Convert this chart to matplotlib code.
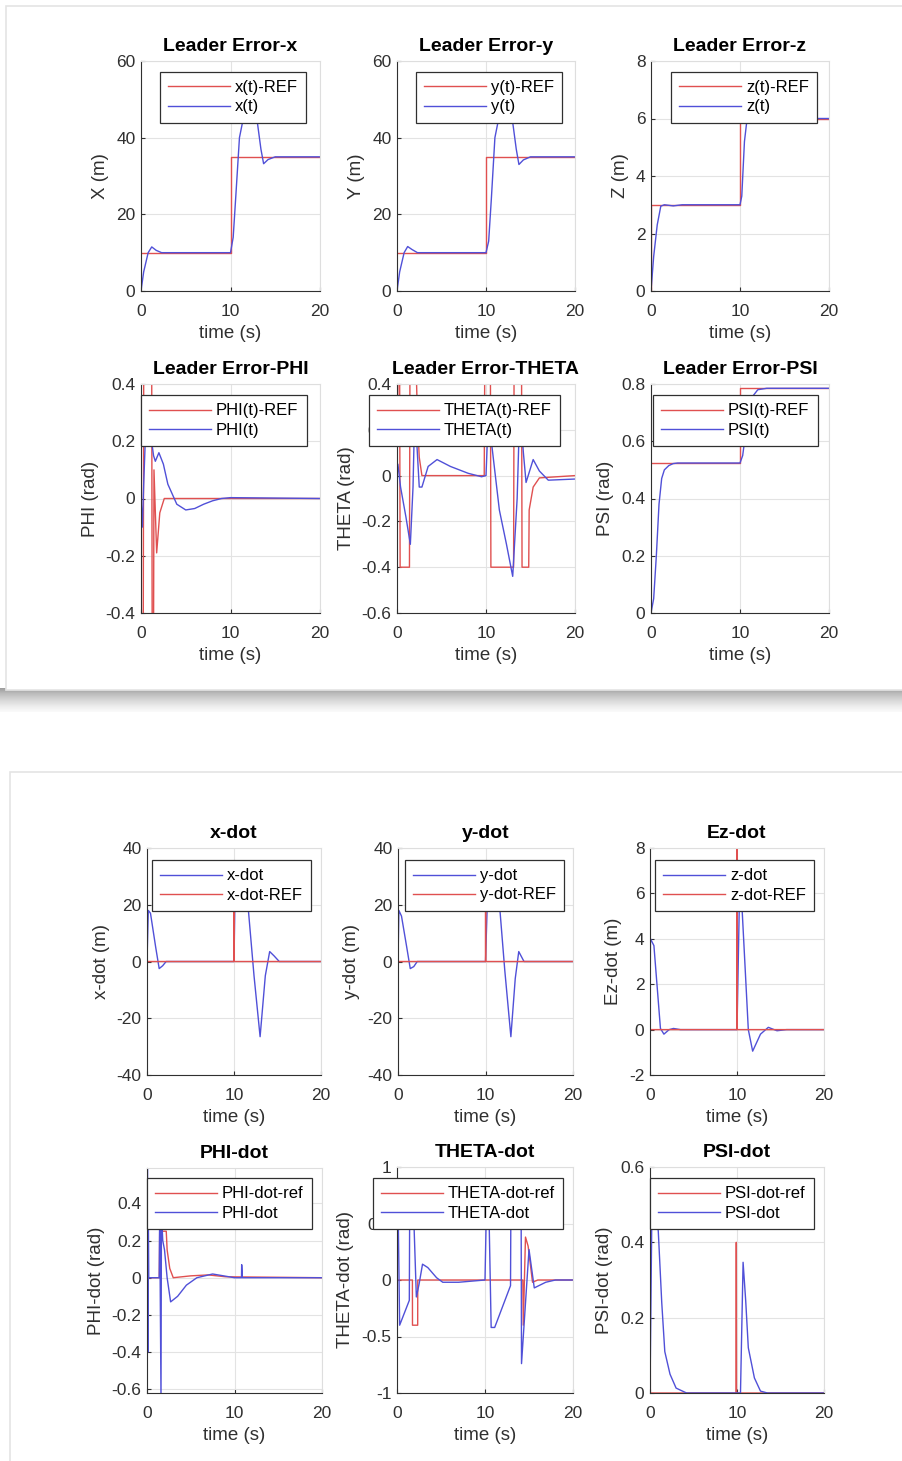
import numpy as np
import matplotlib.pyplot as plt
from matplotlib.ticker import FuncFormatter

W, H = 902, 1461
plt.rcParams['font.family'] = ['Liberation Sans', 'DejaVu Sans']
plt.rcParams['axes.unicode_minus'] = False

RED = '#e05050'
BLUE = '#5050d8'

# ---- top figure: positions / attitude ----
x_ref_t = [0, 10, 10, 20]
x_ref = [10, 10, 35, 35]
x_t = [0, 0.3, 0.8, 1.2, 1.7, 2.3, 10, 10.3, 10.6, 11.0, 11.6, 12.4, 13.0, 13.4, 13.7, 14.2, 15, 20]
x_v = [0, 5, 10, 11.5, 10.6, 10, 10, 14, 25, 40, 47, 47, 44, 37, 33.2, 34.3, 35, 35]

y_ref_t = [0, 10, 10, 20]
y_ref = [10, 10, 35, 35]
y_t = [0, 0.3, 0.8, 1.2, 1.7, 2.3, 10, 10.3, 10.6, 11.0, 11.6, 12.4, 13.0, 13.4, 13.7, 14.2, 15, 20]
y_v = [0, 5, 10, 11.6, 10.8, 10, 10, 13, 24, 40, 47, 47, 44, 37, 33.0, 34.2, 35, 35]

z_ref_t = [0, 0, 10, 10, 20]
z_ref = [0, 3, 3, 6, 6]
z_t = [0, 0.3, 0.7, 1.1, 1.5, 2.5, 3.5, 10, 10.2, 10.5, 10.8, 11.5, 20]
z_v = [0, 1.2, 2.3, 2.95, 3.0, 2.96, 3.0, 3.0, 3.3, 5.2, 6.0, 6.0, 6.0]

phi_ref_t = [0, 0.05, 0.25, 0.3, 1.2, 1.25, 1.4, 1.45, 1.75, 2.1, 2.6, 20]
phi_ref = [0, -0.5, -0.5, 0.4, 0.4, -0.5, -0.5, 0.1, -0.19, -0.05, 0, 0]
phi_t = [0, 0.15, 0.3, 0.5, 0.8, 1.1, 1.4, 1.6, 2.0, 2.5, 3, 4, 5, 6, 7, 8, 9, 10, 20]
phi_v = [0, -0.1, 0.05, 0.22, 0.27, 0.22, 0.15, 0.13, 0.16, 0.12, 0.05, -0.02, -0.04, -0.035, -0.02, -0.008, 0, 0.003, 0]

theta_ref_t = [0, 0.1, 0.15, 0.3, 0.35, 1.4, 1.45, 2.2, 2.3, 2.5, 2.8, 9.8, 9.85, 10.5, 10.55, 13.1, 13.15,
               14.0, 14.05, 14.8, 14.85, 15.3, 16, 20]
theta_ref = [0, 0.4, 0.4, 0.4, -0.4, -0.4, 0.4, 0.4, 0.25, 0.08, 0, 0, 0.4, 0.4, -0.4, -0.4, 0.4,
             0.4, -0.4, -0.4, -0.15, -0.05, -0.01, 0]
theta_t = [0, 0.1, 0.4, 1.0, 1.5, 1.8, 2.0, 2.5, 2.8, 3.5, 4.5, 6, 8, 9.5, 10, 10.3, 10.6, 11.5, 12.3, 13.0,
           13.5, 13.8, 14.2, 14.5, 15.3, 16, 17, 20]
theta_v = [0, 0.05, -0.05, -0.18, -0.3, -0.05, 0.3, -0.05, -0.05, 0.04, 0.07, 0.04, 0.01, -0.005, 0, 0.3, 0.15,
           -0.15, -0.3, -0.44, -0.1, 0.3, 0.1, -0.03, 0.07, 0.02, -0.02, -0.015]

psi_ref_t = [0, 10, 10, 20]
psi_ref = [0.5236, 0.5236, 0.7854, 0.7854]
psi_t = [0, 0.3, 0.6, 0.9, 1.2, 1.5, 2, 2.5, 3, 10, 10.3, 10.6, 11, 11.5, 12, 13, 20]
psi_v = [0, 0.05, 0.2, 0.38, 0.47, 0.5, 0.515, 0.522, 0.524, 0.524, 0.55, 0.62, 0.7, 0.76, 0.78, 0.785, 0.785]

# ---- bottom figure: rates ----
xd_t = [0, 0.15, 0.4, 1.0, 1.4, 1.8, 2.2, 2.6, 10, 10.1, 10.4, 11.2, 11.6, 12.3, 13.0, 13.6, 14.1, 14.6, 15.2, 20]
xd_v = [0, 18, 17, 5, -2.5, -1.5, 0, 0, 0, 20, 30, 30, 20, -5, -26.5, -5, 3.5, 2, 0, 0]
xd_ref_t = [0, 10, 10.01, 10.02, 20]
xd_ref = [0, 0, 25, 0, 0]

yd_t = [0, 0.1, 0.4, 1.0, 1.4, 1.8, 2.2, 2.6, 10, 10.2, 10.5, 11.2, 11.6, 12.2, 12.9, 13.4, 13.8, 14.4, 20]
yd_v = [0, 18, 16, 5, -2.5, -1.8, 0, 0, 0, 20, 30, 30, 20, -3, -26.5, -6, 3.5, 0, 0]
yd_ref_t = [0, 10, 10.01, 10.02, 20]
yd_ref = [0, 0, 25, 0, 0]

zd_t = [0, 0.05, 0.45, 1.2, 1.6, 2.2, 2.7, 3.5, 10, 10.3, 10.6, 11.3, 11.8, 12.7, 13.6, 14.6, 15.7, 20]
zd_v = [0, 4.0, 3.7, 0.05, -0.2, 0.0, 0.05, 0, 0, 6.2, 5.2, 0, -0.95, -0.2, 0.1, -0.05, 0, 0]
zd_ref_t = [0, 10, 10.01, 10.02, 20]
zd_ref = [0, 0, 9, 0, 0]

phid_ref_t = [0, 1.4, 1.45, 2.2, 2.3, 2.6, 3.0, 5, 7, 9, 20]
phid_ref = [0, 0, 0.25, 0.25, 0.15, 0.05, 0.0, 0.01, 0.015, 0.005, 0]
phid_t = [0, 0.05, 0.1, 0.15, 0.2, 1.4, 1.45, 1.6, 1.65, 1.8, 2.0, 2.3, 2.7, 3.5, 4.5, 5.7, 7.5, 10,
          10.8, 10.82, 10.9, 20]
phid_v = [0, 0.6, -0.4, 0.35, 0, 0, 0.35, -0.65, 0.35, 0.2, 0.15, 0.0, -0.13, -0.1, -0.04, 0.0, 0.02, 0.0,
          0.0, 0.07, 0, 0]

thetad_ref_t = [0, 1.75, 1.76, 2.35, 2.36, 2.8, 14.3, 14.35, 14.6, 14.9, 15.4, 16, 20]
thetad_ref = [0, 0, -0.4, -0.4, 0, 0, 0, -0.4, 0.38, 0.3, -0.02, 0, 0]
thetad_t = [0, 0.1, 0.3, 1.4, 1.45, 1.8, 2.2, 2.5, 2.9, 3.5, 4.5, 5.2, 7, 10, 10.2, 10.4, 10.7, 11.1,
            12.9, 12.95, 14.1, 14.15, 15.0, 15.6, 16.9, 18, 20]
thetad_v = [0, 0.8, -0.4, -0.18, 0.8, 0.8, -0.15, -0.04, 0.14, 0.11, 0.02, -0.02, -0.02, 0, 0.8, 0.8,
            -0.42, -0.42, -0.05, 0.8, 0.8, -0.74, 0.27, -0.07, -0.02, 0, 0]

psid_ref_t = [0, 0.02, 0.04, 9.9, 9.92, 9.94, 20]
psid_ref = [0, 0.57, 0, 0, 0.4, 0, 0]
psid_t = [0, 0.2, 0.5, 0.95, 1.35, 1.7, 2.3, 3, 4.2, 10.4, 10.7, 11, 11.3, 12, 12.7, 13.5, 20]
psid_v = [0, 0.45, 0.5, 0.43, 0.24, 0.11, 0.05, 0.013, 0, 0, 0.347, 0.245, 0.12, 0.04, 0.005, 0, 0]

fig = plt.figure(figsize=(W / 100, H / 100), dpi=100)

# screenshot-like background cards
bg = fig.add_axes([0, 0, 1, 1], zorder=-10)
bg.set_xlim(0, W)
bg.set_ylim(H, 0)
bg.axis('off')
bg.add_patch(plt.Rectangle((6, 6), W, 684, facecolor='white', edgecolor='#e4e4e4', lw=1.2))
grad = np.linspace(0, 1, 40)[:, None] * np.ones((1, 200))
bg.imshow(grad, extent=(0, W, 712, 688), cmap='Greys_r', vmin=-1.2, vmax=1.1, aspect='auto')
bg.add_patch(plt.Rectangle((10, 772), W, 700, facecolor='white', edgecolor='#e4e4e4', lw=1.2))


def pax(l, t, r, b):
    return fig.add_axes([l / W, 1 - b / H, (r - l) / W, (b - t) / H])


fmt = FuncFormatter(lambda v, p: '%g' % round(v, 6))


def panel(box, title, ylabel, ylim, yticks, series, leg_xy):
    ax = pax(*box)
    for t, v, c, lab in series:
        ax.plot(t, v, color=c, lw=1.0, label=lab)
    ax.set_xlim(0, 20)
    ax.set_ylim(*ylim)
    ax.set_xticks([0, 10, 20])
    ax.set_yticks(yticks)
    ax.yaxis.set_major_formatter(fmt)
    ax.grid(True, color='#e3e3e3', lw=0.8)
    ax.set_axisbelow(True)
    for s in ['top', 'right']:
        ax.spines[s].set_color('#dedede')
    for s in ['left', 'bottom']:
        ax.spines[s].set_color('#303030')
    ax.tick_params(direction='in', length=3, labelsize=12.5, colors='#303030', pad=4)
    ax.tick_params(axis='x', pad=9)
    ax.set_title(title, fontsize=14, fontweight='bold', pad=7)
    ax.set_xlabel('time (s)', fontsize=13.5, color='#303030', labelpad=5)
    ax.set_ylabel(ylabel, fontsize=13.5, color='#303030', labelpad=5)
    lg = ax.legend(loc='upper left', bbox_to_anchor=(leg_xy[0] / W, 1 - leg_xy[1] / H),
                   bbox_transform=fig.transFigure, fontsize=12, fancybox=False, framealpha=1,
                   edgecolor='#303030', handlelength=3.7, borderpad=0.5, labelspacing=0.25,
                   handletextpad=0.3, borderaxespad=0)
    lg.get_frame().set_linewidth(0.9)
    lg.set_zorder(5)
    return ax


panel((141, 61, 320, 291), 'Leader Error-x', 'X (m)', (0, 60), [0, 20, 40, 60],
      [(x_ref_t, x_ref, RED, 'x(t)-REF'), (x_t, x_v, BLUE, 'x(t)')], (160, 72))
panel((397, 61, 575, 291), 'Leader Error-y', 'Y (m)', (0, 60), [0, 20, 40, 60],
      [(y_ref_t, y_ref, RED, 'y(t)-REF'), (y_t, y_v, BLUE, 'y(t)')], (416, 72))
panel((651, 61, 829, 291), 'Leader Error-z', 'Z (m)', (0, 8), [0, 2, 4, 6, 8],
      [(z_ref_t, z_ref, RED, 'z(t)-REF'), (z_t, z_v, BLUE, 'z(t)')], (671, 72))

panel((141, 384, 320, 613), 'Leader Error-PHI', 'PHI (rad)', (-0.4, 0.4), [-0.4, -0.2, 0, 0.2, 0.4],
      [(phi_ref_t, phi_ref, RED, 'PHI(t)-REF'), (phi_t, phi_v, BLUE, 'PHI(t)')], (141, 395))
panel((397, 384, 575, 613), 'Leader Error-THETA', 'THETA (rad)', (-0.6, 0.4),
      [-0.6, -0.4, -0.2, 0, 0.2, 0.4],
      [(theta_ref_t, theta_ref, RED, 'THETA(t)-REF'), (theta_t, theta_v, BLUE, 'THETA(t)')], (369, 395))
panel((651, 384, 829, 613), 'Leader Error-PSI', 'PSI (rad)', (0, 0.8), [0, 0.2, 0.4, 0.6, 0.8],
      [(psi_ref_t, psi_ref, RED, 'PSI(t)-REF'), (psi_t, psi_v, BLUE, 'PSI(t)')], (653, 395))

panel((147, 848, 321, 1075), 'x-dot', 'x-dot (m)', (-40, 40), [-40, -20, 0, 20, 40],
      [(xd_t, xd_v, BLUE, 'x-dot'), (xd_ref_t, xd_ref, RED, 'x-dot-REF')], (152, 860))
panel((398, 848, 573, 1075), 'y-dot', 'y-dot (m)', (-40, 40), [-40, -20, 0, 20, 40],
      [(yd_t, yd_v, BLUE, 'y-dot'), (yd_ref_t, yd_ref, RED, 'y-dot-REF')], (405, 860))
panel((650, 848, 824, 1075), 'Ez-dot', 'Ez-dot (m)', (-2, 8), [-2, 0, 2, 4, 6, 8],
      [(zd_t, zd_v, BLUE, 'z-dot'), (zd_ref_t, zd_ref, RED, 'z-dot-REF')], (655, 860))

panel((147, 1168, 322, 1393), 'PHI-dot', 'PHI-dot (rad)', (-0.62, 0.59), [-0.6, -0.4, -0.2, 0, 0.2, 0.4],
      [(phid_ref_t, phid_ref, RED, 'PHI-dot-ref'), (phid_t, phid_v, BLUE, 'PHI-dot')], (147, 1178))
panel((397, 1167, 573, 1393), 'THETA-dot', 'THETA-dot (rad)', (-1, 1), [-1, -0.5, 0, 0.5, 1],
      [(thetad_ref_t, thetad_ref, RED, 'THETA-dot-ref'), (thetad_t, thetad_v, BLUE, 'THETA-dot')], (373, 1178))
panel((650, 1167, 824, 1393), 'PSI-dot', 'PSI-dot (rad)', (0, 0.6), [0, 0.2, 0.4, 0.6],
      [(psid_ref_t, psid_ref, RED, 'PSI-dot-ref'), (psid_t, psid_v, BLUE, 'PSI-dot')], (650, 1178))

fig.savefig('out.png', dpi=100)
